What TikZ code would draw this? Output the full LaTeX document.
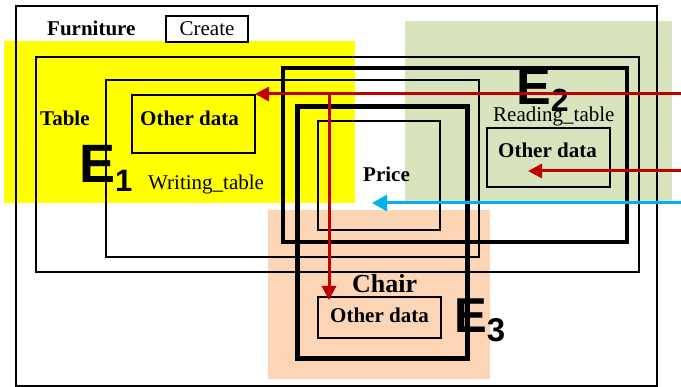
\documentclass[tikz,border=0pt]{standalone}
\usepackage{fontspec}
\setmainfont{Liberation Serif}
\newfontfamily\arialfont{Liberation Sans}
\usetikzlibrary{arrows.meta}
\definecolor{ylw}{HTML}{FFFF00}
\definecolor{grn}{HTML}{D7E4BD}
\definecolor{pch}{HTML}{FBD5B5}
\definecolor{redarr}{HTML}{C00000}
\definecolor{bluearr}{HTML}{00B0F0}
\begin{document}
\begin{tikzpicture}[x=1pt,y=-1pt,
  txt/.style={anchor=base west, inner sep=0pt, font=\fontsize{21}{24}\selectfont},
  btxt/.style={anchor=base west, inner sep=0pt, font=\fontsize{21}{24}\selectfont\bfseries},
  ebig/.style={anchor=base west, inner sep=0pt, font=\arialfont\bfseries\fontsize{54}{54}\selectfont},
  bx/.style={draw, anchor=north west, inner sep=0pt, outer sep=0pt},
  thinb/.style={bx, line width=1.3pt},
  thickb/.style={bx, line width=3.2pt},
  thickerb/.style={bx, line width=5pt},
  redar/.style={draw=redarr, line width=3pt, -{Triangle[length=14pt,width=14pt]}},
  bluear/.style={draw=bluearr, line width=3pt, -{Triangle[length=15pt,width=16pt]}},
]
\useasboundingbox (0,0) rectangle (681,387);
% backgrounds
\fill[ylw] (4,41) rectangle (355,203);
\fill[grn] (405,21) rectangle (672,202);
\fill[pch] (268,210) rectangle (490,379);
% boxes
\node[bx, line width=1.5pt, minimum width=641pt, minimum height=380pt] (outer) at (16,6) {};
\node[bx, line width=1.5pt, minimum width=82pt, minimum height=26pt] (create) at (166,16) {};
\node[thinb, minimum width=603pt, minimum height=215pt] (table) at (36,57) {};
\node[thinb, minimum width=373pt, minimum height=177pt] (writing) at (106,80) {};
\node[thickb, minimum width=344pt, minimum height=174pt] (reading) at (283,68) {};
\node[thickerb, minimum width=170pt, minimum height=252pt] (chair) at (297,107) {};
\node[thinb, minimum width=122pt, minimum height=109pt] (price) at (318,121) {};
\node[thinb, minimum width=123pt, minimum height=58pt] (ydata) at (132,95) {};
\node[thinb, minimum width=123pt, minimum height=59pt] (gdata) at (487,128) {};
\node[thinb, minimum width=123pt, minimum height=41pt] (cdata) at (318,297) {};
% texts
\node[btxt] (tfurn) at (47,36) {Furniture};
\node[txt, anchor=base] (tcreate) at (207,36) {Create};
\node[btxt] (ttable) at (40,126) {Table};
\node[btxt] (tyd) at (140,126) {Other data};
\node[txt] (twrite) at (148,190) {Writing\_table};
\node[txt] (tread) at (493,122) {Reading\_table};
\node[btxt] (tgd) at (498,158) {Other data};
\node[btxt] (tprice) at (363,182) {Price};
\node[btxt, font=\fontsize{26}{30}\selectfont\bfseries] (tchair) at (352,293) {Chair};
\node[btxt] (tcd) at (330,323) {Other data};
\node[ebig] (e1) at (79,183) {E\raisebox{-9pt}{\fontsize{31}{31}\selectfont 1}};
\node[ebig, font=\arialfont\bfseries\fontsize{52}{52}\selectfont] (e2) at (516,105) {E\raisebox{-7pt}{\fontsize{32}{32}\selectfont 2}};
\node[ebig, font=\arialfont\bfseries\fontsize{49}{49}\selectfont] (e3) at (454,333) {E\raisebox{-9pt}{\fontsize{33}{33}\selectfont 3}};
% arrows
\coordinate (r1) at (681,94);
\coordinate (cv) at (329,94);
\coordinate (r2) at (681,171);
\coordinate (r2e) at (528,171);
\coordinate (b1) at (681,203);
\coordinate (b1e) at (372,203);
\draw[redar] (r1) -- (r1 -| ydata.east);
\draw[redar] (cv) -- ([yshift=-3pt]cv |- cdata.north);
\draw[redar] (r2) -- (r2e);
\draw[bluear] (b1) -- (b1e);
\end{tikzpicture}
\end{document}
